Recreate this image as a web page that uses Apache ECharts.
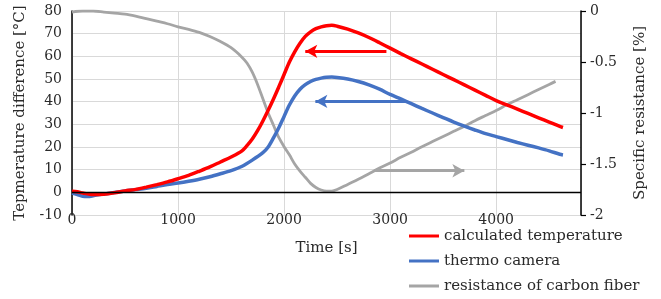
<!DOCTYPE html>
<html>
<head>
<meta charset="utf-8">
<script src="https://cdn.jsdelivr.net/npm/echarts@6/dist/echarts.min.js"></script>
<style>html,body{margin:0;padding:0;background:#fff}#c{width:661px;height:299px}</style>
</head>
<body>
<div id="c"></div>
<script>
// Time [s] and values
var redData = [[0,0.5],[50,0.3],[100,-0.3],[200,-1.0],[300,-0.8],[400,-0.2],[500,0.6],[600,1.3],[700,2.3],[800,3.4],[900,4.6],[1000,6.0],[1100,7.5],[1200,9.3],[1300,11.2],[1400,13.4],[1500,15.6],[1600,18.2],[1650,20.6],[1700,23.5],[1750,27.2],[1800,31.5],[1850,36.2],[1900,41.2],[1950,46.5],[2000,52],[2050,57.5],[2100,62],[2150,65.8],[2200,68.8],[2250,70.8],[2300,72.2],[2350,73.0],[2400,73.5],[2450,73.7],[2500,73.3],[2600,72.0],[2700,70.3],[2800,68.3],[2900,66.0],[3000,63.6],[3100,61.2],[3200,58.9],[3300,56.6],[3400,54.3],[3500,52.0],[3600,49.7],[3700,47.4],[3800,45.1],[3900,42.8],[4000,40.5],[4100,38.6],[4200,36.7],[4300,34.8],[4400,32.9],[4500,31.0],[4600,29.1],[4630,28.6]];
var blueData = [[0,-0.3],[50,-1.0],[100,-1.7],[150,-1.8],[200,-1.5],[300,-0.7],[400,-0.1],[500,0.6],[600,1.2],[700,1.8],[800,2.6],[900,3.4],[1000,4.1],[1100,4.9],[1200,5.8],[1300,6.9],[1400,8.2],[1500,9.6],[1600,11.4],[1700,14.2],[1800,17.5],[1850,20],[1900,24],[1950,28.5],[2000,33.5],[2050,38.5],[2100,42.5],[2150,45.5],[2200,47.5],[2250,48.9],[2300,49.8],[2350,50.4],[2400,50.8],[2450,50.9],[2500,50.7],[2600,50.0],[2700,48.9],[2800,47.4],[2900,45.5],[3000,43.2],[3100,41.2],[3200,39.1],[3300,37.0],[3400,35.0],[3500,33.0],[3600,31.0],[3700,29.2],[3800,27.5],[3900,25.9],[4000,24.6],[4100,23.3],[4200,22.0],[4300,20.8],[4400,19.6],[4500,18.3],[4600,16.8],[4630,16.5]];
var grayData = [[0,-0.01],[100,0],[200,0],[300,-0.01],[400,-0.02],[500,-0.03],[600,-0.05],[700,-0.075],[800,-0.1],[900,-0.125],[1000,-0.155],[1100,-0.18],[1200,-0.21],[1300,-0.25],[1400,-0.30],[1500,-0.36],[1600,-0.45],[1650,-0.51],[1700,-0.60],[1750,-0.72],[1800,-0.86],[1850,-1.0],[1900,-1.12],[1950,-1.24],[2000,-1.33],[2050,-1.41],[2100,-1.50],[2150,-1.57],[2200,-1.63],[2250,-1.69],[2300,-1.73],[2350,-1.755],[2400,-1.765],[2450,-1.765],[2500,-1.75],[2600,-1.70],[2700,-1.65],[2800,-1.595],[2900,-1.54],[3000,-1.49],[3100,-1.435],[3200,-1.385],[3300,-1.33],[3400,-1.28],[3500,-1.23],[3600,-1.18],[3700,-1.13],[3800,-1.075],[3900,-1.025],[4000,-0.975],[4100,-0.92],[4200,-0.87],[4300,-0.82],[4400,-0.77],[4500,-0.72],[4560,-0.69]];
var redArrow = [[2965,62.2],[2200,62.2]];
var blueArrow = [[3155,40.1],[2295,40.1]];
var grayArrow = [[2850,-1.566],[3700,-1.566]];
var seriesNames = ['calculated temperature','thermo camera','resistance of carbon fiber'];
var xTitle = 'Time [s]';
var yLeftTitle = 'Tepmerature difference [°C]';
var yRightTitle = 'Specific resistance [%]';

var FONT = 'DejaVu Serif';
var TXT = '#2a2a2a';
var chart = echarts.init(document.getElementById('c'), null, {renderer:'canvas'});
function arrowLine(pts, color){
  return {
    silent:true, symbol:['none','arrow'], symbolSize:[10,12],
    label:{show:false},
    lineStyle:{color:color, width:3, type:'solid'},
    emphasis:{disabled:true},
    data:[[{coord:pts[0]},{coord:pts[1]}]]
  };
}
chart.setOption({
  animation:false,
  grid:{left:72, right:80, top:11, bottom:84, containLabel:false},
  legend:{
    orient:'vertical', left:409, top:228, height:75, padding:0, itemWidth:30, itemHeight:3, itemGap:9,
    icon:'rect',
    textStyle:{fontFamily:FONT, fontSize:15, color:TXT, lineHeight:16},
    data:seriesNames
  },
  xAxis:{
    type:'value', min:0, max:4800, interval:1000,
    name:xTitle, nameLocation:'middle', nameGap:26,
    nameTextStyle:{fontFamily:FONT, fontSize:15, color:TXT},
    axisLine:{show:false}, axisTick:{show:false},
    axisLabel:{fontFamily:FONT, fontSize:14, color:TXT, margin:-2, showMaxLabel:false,
      formatter:function(v){return v%1000===0?String(v):'';}},
    splitLine:{show:true, lineStyle:{color:'#d9d9d9', width:1}}
  },
  yAxis:[{
    type:'value', min:-10, max:80, interval:10,
    name:yLeftTitle, nameLocation:'middle', nameGap:44, nameRotate:90,
    nameTextStyle:{fontFamily:FONT, fontSize:15, color:TXT},
    axisLine:{show:true, onZero:false, lineStyle:{color:'#000', width:1.5}},
    axisTick:{show:false},
    axisLabel:{fontFamily:FONT, fontSize:14, color:TXT, margin:10},
    splitLine:{show:true, lineStyle:{color:'#d9d9d9', width:1}}
  },{
    type:'value', min:-2, max:0, interval:0.5, position:'right',
    name:yRightTitle, nameLocation:'middle', nameGap:52, nameRotate:90,
    nameTextStyle:{fontFamily:FONT, fontSize:15, color:TXT},
    axisLine:{show:true, onZero:false, lineStyle:{color:'#000', width:1.5}},
    axisTick:{show:true, inside:false, length:5, lineStyle:{color:'#000', width:1.2}},
    axisLabel:{fontFamily:FONT, fontSize:14, color:TXT, margin:9},
    splitLine:{show:false}
  }],
  series:[{
    name:seriesNames[0], type:'line', yAxisIndex:0, data:redData, showSymbol:false, symbol:'none',
    smooth:0.3, lineStyle:{color:'#ff0000', width:3.5}, itemStyle:{color:'#ff0000'}, z:4,
    markLine:arrowLine(redArrow,'#ff0000')
  },{
    name:seriesNames[1], type:'line', yAxisIndex:0, data:blueData, showSymbol:false, symbol:'none',
    smooth:0.3, lineStyle:{color:'#4472c4', width:3.5}, itemStyle:{color:'#4472c4'}, z:3,
    markLine:arrowLine(blueArrow,'#4472c4')
  },{
    name:seriesNames[2], type:'line', yAxisIndex:1, data:grayData, showSymbol:false, symbol:'none',
    smooth:0.3, lineStyle:{color:'#a5a5a5', width:2.8}, itemStyle:{color:'#a5a5a5'}, z:2,
    markLine:arrowLine(grayArrow,'#a5a5a5')
  },{
    name:'zero', type:'line', yAxisIndex:0, data:[], silent:true, z:1,
    markLine:{silent:true, symbol:['none','none'], label:{show:false},
      lineStyle:{color:'#000', width:1.3, type:'solid'}, data:[{yAxis:0}]}
  }]
});
</script>
</body>
</html>
